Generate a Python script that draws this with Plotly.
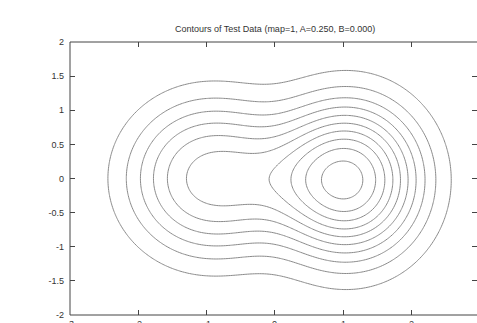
import numpy as np
import plotly.graph_objects as go

# ---- data: test surface (two bumps) and contour levels ----
bump_height = [1.0, 0.6173]
bump_center_x = [1.0567, -0.9352]
bump_center_y = [-0.0223, 0.0]
bump_width_x = [1.0391, 1.1725]
bump_width_y = [1.0919, 1.1042]
bump_power = [2.1670, 2.3565]
contour_levels = [0.1006, 0.1971, 0.2936, 0.3901, 0.4866, 0.5831, 0.6796, 0.7761, 0.8726, 0.9691]

x_ticks = [-3, -2, -1, 0, 1, 2, 3]
x_labels = ["-3", "-2", "-1", "0", "1", "2", "3"]
y_ticks = [-2, -1.5, -1, -0.5, 0, 0.5, 1, 1.5, 2]
y_labels = ["-2", "-1.5", "-1", "-0.5", "0", "0.5", "1", "1.5", "2"]
title = "Contours of Test Data (map=1, A=0.250, B=0.000)"

# ---- evaluate surface on a grid ----
gx = np.linspace(-3, 3, 241)
gy = np.linspace(-2, 2, 161)
GX, GY = np.meshgrid(gx, gy)
Z = np.zeros_like(GX)
for h, cx, cy, wx, wy, pw in zip(bump_height, bump_center_x, bump_center_y,
                                 bump_width_x, bump_width_y, bump_power):
    r2 = ((GX - cx) / wx) ** 2 + ((GY - cy) / wy) ** 2
    Z += h * np.exp(-np.power(r2 + 1e-12, pw / 2))

fig = go.Figure(go.Contour(
    x=gx, y=gy, z=Z,
    contours=dict(start=contour_levels[0], end=contour_levels[-1],
                  size=contour_levels[1] - contour_levels[0], coloring="none"),
    line=dict(color="#8a8a8a", width=1, smoothing=1),
    showscale=False, hoverinfo="skip",
))

FONT = "Liberation Sans, Arial, sans-serif"
axfont = dict(family=FONT, size=9, color="#333")
PLOT_H = 323 - 42 - 8

annotations = [
    dict(text=title, xref="paper", yref="paper",
         x=(275 - 70) / 407, y=1 + 13 / PLOT_H, xanchor="center", yanchor="middle",
         showarrow=False, font=dict(family=FONT, size=9, color="#333")),
]
for v, t in zip(x_ticks, x_labels):
    annotations.append(dict(text=t, xref="x", yref="paper", x=v, y=-1.5 / PLOT_H,
                            xanchor="center", yanchor="top", showarrow=False, font=axfont))

fig.update_layout(
    width=477, height=323,
    margin=dict(l=70, r=0, t=42, b=8),
    paper_bgcolor="white", plot_bgcolor="white",
    showlegend=False,
    xaxis=dict(range=[-3, -3 + 407 / 68.3], tickvals=x_ticks, showticklabels=False,
               ticks="inside", ticklen=5, tickcolor="#444", mirror="ticks", showline=False,
               showgrid=False, zeroline=False),
    yaxis=dict(range=[-2, 2], tickvals=y_ticks, ticktext=y_labels,
               ticks="inside", ticklen=5, tickcolor="#444", mirror="ticks", showline=False,
               showgrid=False, zeroline=False, tickfont=axfont, ticklabelstandoff=5),
    shapes=[
        dict(type="line", xref="paper", yref="paper", x0=0, x1=0, y0=0, y1=1, line=dict(color="#444", width=1)),
        dict(type="line", xref="paper", yref="paper", x0=0, x1=1, y0=1, y1=1, line=dict(color="#444", width=1)),
        dict(type="line", xref="paper", yref="paper", x0=0, x1=1, y0=0, y1=0, line=dict(color="#444", width=1)),
    ],
    annotations=annotations,
)

fig.write_html("out.html")
